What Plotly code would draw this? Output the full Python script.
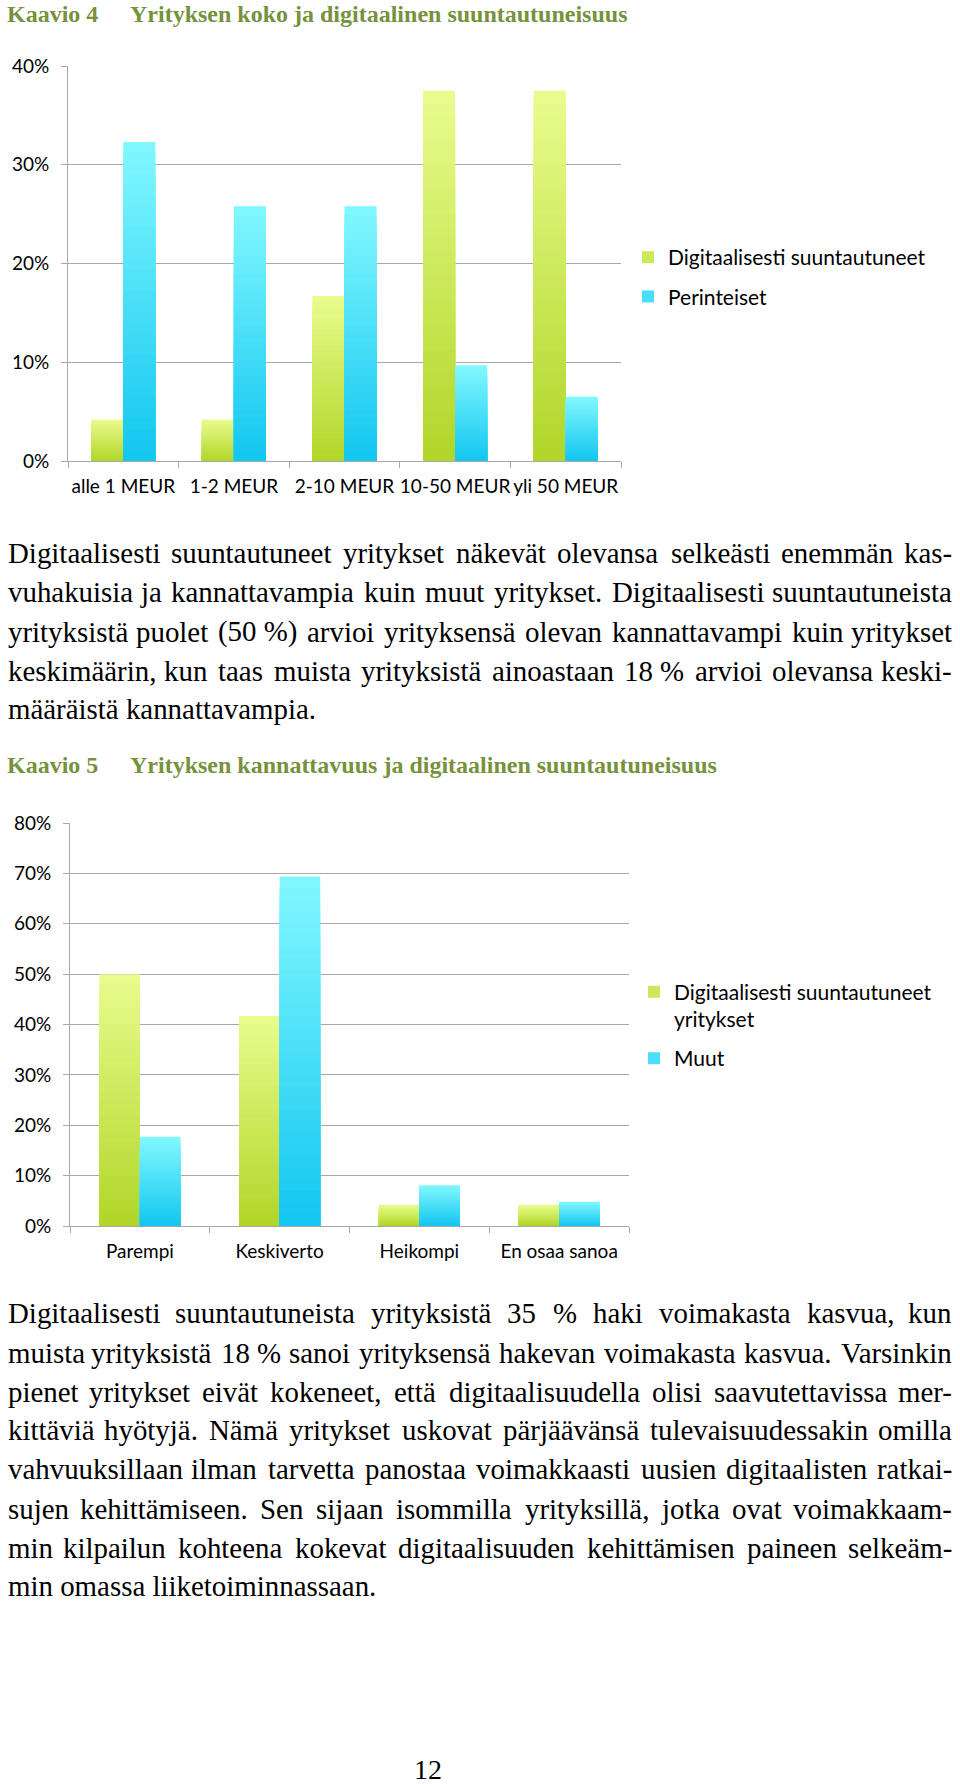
import plotly.graph_objects as go

W, H = 960, 1786

# ---------------- data ----------------
size_categories = ["alle 1 MEUR", "1-2 MEUR", "2-10 MEUR", "10-50 MEUR", "yli 50 MEUR"]
size_digital = [4.2, 4.2, 16.7, 37.5, 37.5]          # Digitaalisesti suuntautuneet
size_traditional = [32.3, 25.8, 25.8, 9.7, 6.5]      # Perinteiset
size_ticks = [0, 10, 20, 30, 40]
size_ticktext = ["0%", "10%", "20%", "30%", "40%"]

prof_categories = ["Parempi", "Keskiverto", "Heikompi", "En osaa sanoa"]
prof_digital = [50.0, 41.7, 4.2, 4.2]                # Digitaalisesti suuntautuneet yritykset
prof_other = [17.7, 69.4, 8.1, 4.8]                  # Muut
prof_ticks = [0, 10, 20, 30, 40, 50, 60, 70, 80]
prof_ticktext = ["0%", "10%", "20%", "30%", "40%", "50%", "60%", "70%", "80%"]

title4_no, title4 = "Kaavio 4", "Yrityksen koko ja digitaalinen suuntautuneisuus"
title5_no, title5 = "Kaavio 5", "Yrityksen kannattavuus ja digitaalinen suuntautuneisuus"
legend1_names = ["Digitaalisesti suuntautuneet", "Perinteiset"]
legend2_names = ["Digitaalisesti suuntautuneet<br>yritykset", "Muut"]

para1 = [
    "Digitaalisesti suuntautuneet yritykset näkevät olevansa selkeästi enemmän kas-",
    "vuhakuisia ja kannattavampia kuin muut yritykset. Digitaalisesti suuntautuneista",
    "yrityksistä puolet (50\u00a0%) arvioi yrityksensä olevan kannattavampi kuin yritykset",
    "keskimäärin, kun taas muista yrityksistä ainoastaan 18\u00a0% arvioi olevansa keski-",
    "määräistä kannattavampia.",
]
para2 = [
    "Digitaalisesti suuntautuneista yrityksistä 35 % haki voimakasta kasvua, kun",
    "muista yrityksistä 18\u00a0% sanoi yrityksensä hakevan voimakasta kasvua. Varsinkin",
    "pienet yritykset eivät kokeneet, että digitaalisuudella olisi saavutettavissa mer-",
    "kittäviä hyötyjä. Nämä yritykset uskovat pärjäävänsä tulevaisuudessakin omilla",
    "vahvuuksillaan ilman tarvetta panostaa voimakkaasti uusien digitaalisten ratkai-",
    "sujen kehittämiseen. Sen sijaan isommilla yrityksillä, jotka ovat voimakkaam-",
    "min kilpailun kohteena kokevat digitaalisuuden kehittämisen paineen selkeäm-",
    "min omassa liiketoiminnassaan.",
]
page_number = "12"

# ---------------- styles ----------------
SANS = "Lato, Calibri, sans-serif"
SERIF = "Liberation Serif, Times New Roman, serif"
TITLE_COLOR = "#76923c"
GRID = "#a8a8a8"
GREEN_BOTTOM, GREEN_TOP = (176, 214, 40), (233, 252, 142)
BLUE_BOTTOM, BLUE_TOP = (18, 198, 240), (130, 248, 255)
N_STEPS = 30
BAR_W = 0.29


def px_x(v):
    return v / W


def px_y(v):
    return 1 - v / H


def lerp(c1, c2, t):
    return "rgb(%d,%d,%d)" % tuple(round(a + (b - a) * t) for a, b in zip(c1, c2))


fig = go.Figure()


def add_gradient_series(cats, vals, offset, bottom, top, xa, ya):
    for k in range(N_STEPS, 0, -1):
        frac = k / N_STEPS
        fig.add_trace(go.Bar(
            x=cats, y=[v * frac for v in vals], offset=offset, width=BAR_W,
            marker=dict(color=lerp(bottom, top, (k - 0.5) / N_STEPS), line=dict(width=0)),
            showlegend=False, hoverinfo="skip", xaxis=xa, yaxis=ya))


add_gradient_series(size_categories, size_digital, -BAR_W, GREEN_BOTTOM, GREEN_TOP, "x", "y")
add_gradient_series(size_categories, size_traditional, 0, BLUE_BOTTOM, BLUE_TOP, "x", "y")
add_gradient_series(prof_categories, prof_digital, -BAR_W, GREEN_BOTTOM, GREEN_TOP, "x2", "y2")
add_gradient_series(prof_categories, prof_other, 0, BLUE_BOTTOM, BLUE_TOP, "x2", "y2")

# legend entries
for name, col, grp in [(legend1_names[0], lerp(GREEN_BOTTOM, GREEN_TOP, 0.5), "a"),
                       (legend1_names[1], lerp(BLUE_BOTTOM, BLUE_TOP, 0.5), "b")]:
    fig.add_trace(go.Bar(x=[None], y=[None], name=name, marker=dict(color=col, line=dict(width=0)),
                         legend="legend", legendgroup=grp, xaxis="x", yaxis="y"))
for name, col, grp in [(legend2_names[0], lerp(GREEN_BOTTOM, GREEN_TOP, 0.5), "c"),
                       (legend2_names[1], lerp(BLUE_BOTTOM, BLUE_TOP, 0.5), "d")]:
    fig.add_trace(go.Bar(x=[None], y=[None], name=name, marker=dict(color=col, line=dict(width=0)),
                         legend="legend2", legendgroup=grp, xaxis="x2", yaxis="y2"))

tickfont = dict(family=SANS, size=19, color="black")
xcommon = dict(type="category", tickson="boundaries", ticks="outside", ticklen=6, tickcolor=GRID,
               showline=True, linecolor=GRID, linewidth=1, showgrid=False, tickfont=tickfont,
               tickangle=0, ticklabelstandoff=8, automargin=False, fixedrange=True)
ycommon = dict(ticks="outside", ticklen=6, tickcolor=GRID, showline=True, linecolor=GRID, linewidth=1,
               showgrid=True, gridcolor=GRID, gridwidth=1, zeroline=False, tickmode="array",
               tickfont=tickfont, ticklabelstandoff=8, automargin=False, fixedrange=True)

fig.update_layout(
    width=W, height=H, margin=dict(l=0, r=0, t=0, b=0, pad=0, autoexpand=False), autosize=False,
    paper_bgcolor="white", plot_bgcolor="white", barmode="overlay",
    xaxis=dict(domain=[px_x(68), px_x(621)], anchor="y", range=[-0.5, len(size_categories) - 0.5], **xcommon),
    yaxis=dict(domain=[px_y(461), px_y(66)], anchor="x", range=[0, 40], tickvals=size_ticks,
               ticktext=size_ticktext, **ycommon),
    xaxis2=dict(domain=[px_x(70), px_x(629)], anchor="y2", range=[-0.5, len(prof_categories) - 0.5], **xcommon),
    yaxis2=dict(domain=[px_y(1226), px_y(823)], anchor="x2", range=[0, 80], tickvals=prof_ticks,
                ticktext=prof_ticktext, **ycommon),
    legend=dict(x=px_x(628), xanchor="left", y=px_y(277), yanchor="middle",
                font=dict(family=SANS, size=21, color="black"), bgcolor="rgba(0,0,0,0)",
                traceorder="grouped", tracegroupgap=9, itemclick=False, itemdoubleclick=False),
    legend2=dict(x=px_x(634), xanchor="left", y=px_y(1025), yanchor="middle", valign="top",
                 font=dict(family=SANS, size=21, color="black"), bgcolor="rgba(0,0,0,0)",
                 traceorder="grouped", tracegroupgap=9, itemclick=False, itemdoubleclick=False),
)

# ---------------- text ----------------
annotations = []
tfont = dict(family=SERIF, size=24, color=TITLE_COLOR, weight="bold")
for txt, x, y, ya in [(title4_no, 6, 0, "top"), (title4, 129, 0, "top"),
                      (title5_no, 6, 765, "middle"), (title5, 129, 765, "middle")]:
    annotations.append(dict(text="<b>%s</b>" % txt, x=px_x(x), y=px_y(y), xref="paper", yref="paper",
                            xanchor="left", yanchor=ya, showarrow=False, font=tfont, borderpad=0))

TIMES = {' ': 250, '\u00a0': 250, 'a': 444, 'b': 500, 'c': 444, 'd': 500, 'e': 444, 'f': 333, 'g': 500,
         'h': 500, 'i': 278, 'j': 278, 'k': 500, 'l': 278, 'm': 778, 'n': 500, 'o': 500, 'p': 500,
         'q': 500, 'r': 333, 's': 389, 't': 278, 'u': 500, 'v': 500, 'w': 722, 'x': 500, 'y': 500,
         'z': 444, 'ä': 444, 'ö': 500, 'å': 444, 'A': 722, 'D': 722, 'N': 722, 'S': 556, 'V': 722,
         '%': 833, '(': 333, ')': 333, ',': 250, '.': 250, '-': 333}


def width_em(s):
    return sum(TIMES.get(ch, 500) for ch in s) / 1000.0


LEFT, RIGHT = 6, 954
full_lines = para1[:-1] + para2[:-1]
FS = round(min((RIGHT - LEFT) / width_em(l) for l in full_lines) - 0.3, 1)
bfont = dict(family=SERIF, size=FS, color="black")


def add_line(line, y, justify):
    if not justify:
        annotations.append(dict(text=line, x=px_x(LEFT), y=px_y(y), xref="paper", yref="paper",
                                xanchor="left", yanchor="middle", showarrow=False, font=bfont))
        return
    words = line.split(" ")
    widths = [width_em(w) * FS for w in words]
    gap = (RIGHT - LEFT - sum(widths)) / (len(words) - 1)
    x = LEFT
    for i, (word, wd) in enumerate(zip(words, widths)):
        if i == 0:
            xa, xp = "left", x
        elif i == len(words) - 1:
            xa, xp = "right", RIGHT
        else:
            xa, xp = "center", x + wd / 2
        annotations.append(dict(text=word, x=px_x(xp), y=px_y(y), xref="paper", yref="paper",
                                xanchor=xa, yanchor="middle", showarrow=False, font=bfont))
        x += wd + gap


para1_y = [553, 592, 632, 671, 709]
para2_y = [1313, 1353, 1392, 1430, 1469, 1509, 1548, 1586, 1625]
for i, (line, y) in enumerate(zip(para1, para1_y)):
    add_line(line, y, i < len(para1) - 1)
for i, (line, y) in enumerate(zip(para2, para2_y)):
    add_line(line, y, i < len(para2) - 1)

annotations.append(dict(text=page_number, x=px_x(428), y=px_y(H), xref="paper", yref="paper",
                        xanchor="center", yanchor="bottom", showarrow=False, borderpad=0,
                        font=dict(family=SERIF, size=28, color="black")))

fig.update_layout(annotations=annotations)
fig.write_html("out.html")
